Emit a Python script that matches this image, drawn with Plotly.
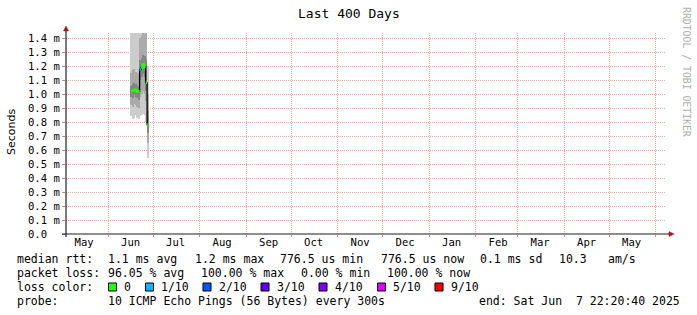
import plotly.graph_objects as go
import pandas as pd

# ---------------- data ----------------
days = ["2024-06-16", "2024-06-17", "2024-06-18", "2024-06-19", "2024-06-20", "2024-06-21",
        "2024-06-22", "2024-06-23", "2024-06-24", "2024-06-25", "2024-06-26", "2024-06-27"]
smoke_min = [0.84, 0.82, 0.83, 0.85, 0.83, 0.82, 0.84, 0.85, 0.86, 0.85, 0.80, 0.54]
smoke_p20 = [0.92, 0.91, 0.93, 0.92, 0.91, 0.90, 0.98, 1.00, 1.02, 1.00, 0.95, 0.65]
smoke_p40 = [0.98, 0.97, 0.99, 0.98, 0.97, 0.96, 1.10, 1.12, 1.14, 1.12, 1.02, 0.72]
median_rtt = [1.02, 1.025, 1.03, 1.03, 1.02, 1.02, 1.175, 1.19, 1.21, 1.195, 1.08, 0.78]
smoke_p60 = [1.06, 1.07, 1.08, 1.07, 1.06, 1.06, 1.24, 1.26, 1.28, 1.27, 1.25, 0.88]
smoke_p80 = [1.15, 1.17, 1.18, 1.16, 1.15, 1.14, 1.40, 1.42, 1.45, 1.43, 1.45, 1.00]
smoke_max = [1.50, 1.50, 1.50, 1.50, 1.50, 1.50, 1.50, 1.50, 1.50, 1.50, 1.50, 1.20]
loss_tenths = [0, 0, 0, 0, 0, 0, 1, 0, 0, 0, 0, 0]

loss_levels = ["0", "1/10", "2/10", "3/10", "4/10", "5/10", "9/10"]
loss_colors = ["#26ff00", "#00b8ff", "#0059ff", "#5e00ff", "#7e00ff", "#dd00ff", "#ff0000"]
loss_color_by_tenth = {0: "#26ff00", 1: "#00b8ff", 2: "#0059ff", 3: "#5e00ff",
                       4: "#7e00ff", 5: "#dd00ff", 9: "#ff0000"}

month_labels = ["May", "Jun", "Jul", "Aug", "Sep", "Oct", "Nov", "Dec",
                "Jan", "Feb", "Mar", "Apr", "May"]
label_dates = ["2024-05-16", "2024-06-16", "2024-07-16", "2024-08-16", "2024-09-16",
               "2024-10-16", "2024-11-16", "2024-12-16", "2025-01-16", "2025-02-16",
               "2025-03-16", "2025-04-16", "2025-05-16"]
grid_dates = ["2024-06-01", "2024-07-01", "2024-08-01", "2024-09-01", "2024-10-01",
              "2024-11-01", "2024-12-01", "2025-01-01", "2025-02-01", "2025-03-01",
              "2025-04-01", "2025-05-01", "2025-06-01"]

y_tick_vals = [0.0, 0.1, 0.2, 0.3, 0.4, 0.5, 0.6, 0.7, 0.8, 0.9, 1.0, 1.1, 1.2, 1.3, 1.4]
y_tick_text = ["0.0\u00a0\u00a0", "0.1 m", "0.2 m", "0.3 m", "0.4 m", "0.5 m", "0.6 m",
               "0.7 m", "0.8 m", "0.9 m", "1.0 m", "1.1 m", "1.2 m", "1.3 m", "1.4 m"]

range_start = "2024-05-03 22:20:40"
range_end = "2025-06-07 22:20:40"

# ---------------- layout geometry (pixels) ----------------
W, H = 697, 315
L, R, T, B = 66, 666, 33, 234
MONO = "DejaVu Sans Mono"


def px(p):
    return (p - L) / (R - L)


def py(q):
    return (B - q) / (B - T)


fig = go.Figure()

d0 = pd.to_datetime(days)
one_day = pd.Timedelta(days=1)
mid = d0 + pd.Timedelta(hours=12)

layers = [
    (smoke_min, smoke_max, "#cccccc"),
    (smoke_p20, smoke_p80, "#aaaaaa"),
    (smoke_p40, smoke_p60, "#858585"),
]
for lo, hi, col in layers:
    fig.add_trace(go.Bar(
        x=mid, y=[h - l for l, h in zip(lo, hi)], base=lo,
        width=86400000, marker=dict(color=col, line=dict(width=0)),
        hoverinfo="skip", showlegend=False))

# median step line (black connectors)
xs = list(d0) + [d0[-1] + one_day]
ys = list(median_rtt) + [median_rtt[-1]]
fig.add_trace(go.Scatter(x=xs, y=ys, mode="lines", line=dict(color="black", width=1.3, shape="hv"),
                         hoverinfo="skip", showlegend=False))

# coloured median segments by loss (continuous runs where the step is small)
for tenth, col in loss_color_by_tenth.items():
    sx, sy = [], []
    prev = None
    for i, lt in enumerate(loss_tenths):
        if lt != tenth:
            prev = None
            continue
        m = median_rtt[i]
        if prev is not None and abs(m - prev) < 0.03:
            sx += [d0[i], d0[i] + one_day]
            sy += [m, m]
        else:
            if sx:
                sx.append(None)
                sy.append(None)
            sx += [d0[i], d0[i] + one_day]
            sy += [m, m]
        prev = m
    if sx:
        fig.add_trace(go.Scatter(x=sx, y=sy, mode="lines", line=dict(color=col, width=2.5),
                                 hoverinfo="skip", showlegend=False))

grid_col = "#eba3a3"

fig.update_layout(
    width=W, height=H,
    margin=dict(l=L, r=W - R, t=T, b=H - B),
    paper_bgcolor="white", plot_bgcolor="white",
    barmode="overlay", bargap=0,
    showlegend=False,
    xaxis=dict(
        type="date", range=[range_start, range_end],
        tickmode="array", tickvals=label_dates, ticktext=month_labels,
        ticks="", showgrid=False, zeroline=False, showline=False,
        tickfont=dict(family=MONO, size=10.6, color="black"),
        minor=dict(tickmode="array", tickvals=grid_dates, showgrid=True,
                   gridcolor=grid_col, griddash="1px,1px", gridwidth=1,
                   ticks="outside", ticklen=2, tickcolor="#d09090"),
    ),
    yaxis=dict(
        range=[0, (B - T) / 140.0],
        tickmode="array", tickvals=y_tick_vals, ticktext=y_tick_text,
        ticks="outside", ticklen=3, tickcolor="#b09090",
        showgrid=True, gridcolor=grid_col, griddash="1px,1px", gridwidth=1,
        zeroline=False, showline=False,
        tickfont=dict(family=MONO, size=10.6, color="black"),
    ),
)

shapes = []
axis_col = "#202020"
arrow_col = "#a01818"
# axis lines
shapes.append(dict(type="line", xref="paper", yref="paper", x0=px(62), x1=px(669), y0=py(234), y1=py(234),
                   line=dict(color=axis_col, width=1.2)))
shapes.append(dict(type="line", xref="paper", yref="paper", x0=px(66), x1=px(66), y0=py(237), y1=py(30),
                   line=dict(color=axis_col, width=1.2)))
# arrow heads
shapes.append(dict(type="path", xref="paper", yref="paper",
                   path=f"M {px(63.5)},{py(31)} L {px(68.5)},{py(31)} L {px(66)},{py(26)} Z",
                   fillcolor=arrow_col, line=dict(color=arrow_col, width=0.5)))
shapes.append(dict(type="path", xref="paper", yref="paper",
                   path=f"M {px(669)},{py(231.5)} L {px(669)},{py(236.5)} L {px(674)},{py(234)} Z",
                   fillcolor=arrow_col, line=dict(color=arrow_col, width=0.5)))

# legend colour boxes
box_x = [108.5, 145.5, 203, 261, 319, 377.5, 435]
for bx, col in zip(box_x, loss_colors):
    shapes.append(dict(type="rect", xref="paper", yref="paper",
                       x0=px(bx), x1=px(bx + 8), y0=py(291), y1=py(283),
                       fillcolor=col, line=dict(color="black", width=1)))

annotations = []


def txt(x, y, s, size=11.5, family=MONO, color="black", anchor="left", angle=0):
    annotations.append(dict(xref="paper", yref="paper", x=px(x), y=py(y), text=s,
                            showarrow=False, xanchor=anchor, yanchor="middle",
                            textangle=angle, borderpad=0,
                            font=dict(family=family, size=size, color=color)))


rows = [259.3, 273.3, 287.3, 301.3]
legend_items = [
    (16, 0, "median rtt:"), (107, 0, "1.1 ms avg"), (194, 0, "1.2 ms max"),
    (279, 0, "776.5 us min"), (380, 0, "776.5 us now"), (479, 0, "0.1 ms sd"),
    (558, 0, "10.3"), (607, 0, "am/s"),
    (16, 1, "packet loss:"), (107, 1, "96.05 % avg"), (200, 1, "100.00 % max"),
    (300, 1, "0.00 % min"), (386, 1, "100.00 % now"),
    (16, 2, "loss color:"), (123, 2, "0"), (160, 2, "1/10"), (218, 2, "2/10"),
    (276, 2, "3/10"), (334, 2, "4/10"), (392, 2, "5/10"), (450, 2, "9/10"),
    (16, 3, "probe:"), (107, 3, "10 ICMP Echo Pings (56 Bytes) every 300s"),
    (478, 3, "end: Sat Jun\u00a0\u00a07 22:20:40 2025"),
]
for x, r, s in legend_items:
    txt(x, rows[r], s)

txt(348.5, 13, "Last 400 Days", size=13, anchor="center")
txt(11, 132, "Seconds", size=11, family="DejaVu Sans", anchor="center", angle=-90)
txt(687, 72, "RRDTOOL / TOBI OETIKER", size=9.8, color="#b0b0b0", anchor="center", angle=90)

fig.update_layout(shapes=shapes, annotations=annotations)

fig.write_html("out.html")
